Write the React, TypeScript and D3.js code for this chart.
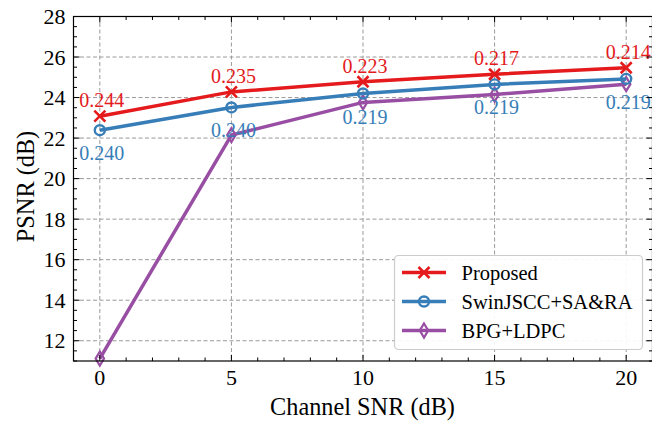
import React from "react";
import * as d3 from "d3";

const snr = [0, 5, 10, 15, 20];
const proposed = [23.08, 24.28, 24.78, 25.15, 25.47];
const swin = [22.39, 23.51, 24.2, 24.65, 24.92];
const bpg = [11.12, 22.15, 23.76, 24.15, 24.66];
const proposedLabels = ["0.244", "0.235", "0.223", "0.217", "0.214"];
const swinLabels = ["0.240", "0.240", "0.219", "0.219", "0.219"];
const xTicks = [0, 5, 10, 15, 20];
const yTicks = [12, 14, 16, 18, 20, 22, 24, 26, 28];
const seriesNames = ["Proposed", "SwinJSCC+SA&RA", "BPG+LDPC"];

const W = 652, H = 422;
const L = 73.5, T = 16.5, R = 652.5, B = 361;
const RED = "#e41a1c", BLUE = "#377eb8", PURPLE = "#984ea3";

function Marker({ kind, x, y, color }: { kind: string; x: number; y: number; color: string }) {
  if (kind === "x") {
    const s = 5.5;
    return (
      <path d={`M${x - s},${y - s}L${x + s},${y + s}M${x - s},${y + s}L${x + s},${y - s}`} stroke={color} strokeWidth={2.6} fill="none" />
    );
  }
  if (kind === "o") {
    return <circle cx={x} cy={y} r={5} stroke={color} strokeWidth={2.4} fill="none" />;
  }
  const w = 4.2, h = 7;
  return (
    <path d={`M${x},${y - h}L${x + w},${y}L${x},${y + h}L${x - w},${y}Z`} stroke={color} strokeWidth={2.2} fill="none" />
  );
}

export default function App() {
  const x = d3.scaleLinear().domain([-1, 21]).range([L, R]);
  const y = d3.scaleLinear().domain([11, 28]).range([B, T]);
  const line = d3.line<number>().x((_, i) => x(snr[i])).y((d) => y(d));

  const series = [
    { data: bpg, color: PURPLE, kind: "d" },
    { data: swin, color: BLUE, kind: "o" },
    { data: proposed, color: RED, kind: "x" },
  ];

  const xMinor = d3.range(-1, 21.001, 1).filter((v) => !xTicks.includes(v));
  const yMinor = d3.range(11, 28.001, 0.5).filter((v) => !yTicks.includes(v));

  const legendItems = [
    { name: seriesNames[0], color: RED, kind: "x" },
    { name: seriesNames[1], color: BLUE, kind: "o" },
    { name: seriesNames[2], color: PURPLE, kind: "d" },
  ];

  return (
    <svg width={W} height={H} style={{ position: "absolute", left: 0, top: 0, background: "#fff", fontFamily: "'Liberation Serif', 'Times New Roman', Times, serif" }}>
      <rect x={0} y={0} width={W} height={H} fill="#fff" />
      {/* grid */}
      <g stroke="#9a9a9a" strokeWidth={1} strokeDasharray="4,2.5">
        {xTicks.map((t) => (
          <line key={"gx" + t} x1={x(t)} x2={x(t)} y1={T} y2={B} />
        ))}
        {yTicks.map((t) => (
          <line key={"gy" + t} x1={L} x2={R} y1={y(t)} y2={y(t)} />
        ))}
      </g>
      {/* series */}
      {series.map((s, si) => (
        <g key={si}>
          <path d={line(s.data) || ""} stroke={s.color} strokeWidth={3.5} fill="none" strokeLinejoin="round" />
          {s.data.map((v, i) => (
            <Marker key={i} kind={s.kind} x={x(snr[i])} y={y(v)} color={s.color} />
          ))}
        </g>
      ))}
      {/* annotations */}
      <g fontSize={20} textAnchor="middle">
        {proposed.map((v, i) => (
          <text key={"pl" + i} x={x(snr[i]) + 2} y={y(v) - 9} fill={RED}>
            {proposedLabels[i]}
          </text>
        ))}
        {swin.map((v, i) => (
          <text key={"sl" + i} x={x(snr[i]) + 2} y={y(v) + 30} fill={BLUE}>
            {swinLabels[i]}
          </text>
        ))}
      </g>
      {/* ticks */}
      <g stroke="#000" strokeWidth={1}>
        {xTicks.map((t) => (
          <g key={"xt" + t}>
            <line x1={x(t)} x2={x(t)} y1={B} y2={B - 6} />
            <line x1={x(t)} x2={x(t)} y1={T} y2={T + 6} />
          </g>
        ))}
        {xMinor.map((t) => (
          <g key={"xm" + t}>
            <line x1={x(t)} x2={x(t)} y1={B} y2={B - 3.5} />
            <line x1={x(t)} x2={x(t)} y1={T} y2={T + 3.5} />
          </g>
        ))}
        {yTicks.map((t) => (
          <g key={"yt" + t}>
            <line x1={L} x2={L + 6} y1={y(t)} y2={y(t)} />
            <line x1={R} x2={R - 6} y1={y(t)} y2={y(t)} />
          </g>
        ))}
        {yMinor.map((t) => (
          <g key={"ym" + t}>
            <line x1={L} x2={L + 3.5} y1={y(t)} y2={y(t)} />
            <line x1={R} x2={R - 3.5} y1={y(t)} y2={y(t)} />
          </g>
        ))}
      </g>
      {/* legend */}
      <g>
        <rect x={394.5} y={255.5} width={248} height={94} rx={4} fill="#fff" fillOpacity={0.92} stroke="#cccccc" strokeWidth={1.2} />
        {legendItems.map((it, i) => {
          const ly = 272.5 + i * 29;
          return (
            <g key={it.name}>
              <line x1={402} x2={446} y1={ly} y2={ly} stroke={it.color} strokeWidth={3.5} />
              <Marker kind={it.kind} x={424} y={ly} color={it.color} />
              <text x={461.5} y={ly + 7} fontSize={20.5} fill="#000">
                {it.name}
              </text>
            </g>
          );
        })}
      </g>
      {/* spines */}
      <rect x={L} y={T} width={R - L} height={B - T} fill="none" stroke="#000" strokeWidth={1.2} />
      {/* tick labels */}
      <g fontSize={22} fill="#000">
        {xTicks.map((t) => (
          <text key={"xl" + t} x={x(t)} y={385} textAnchor="middle">
            {t}
          </text>
        ))}
        {yTicks.map((t) => (
          <text key={"yl" + t} x={65.5} y={y(t) + 7.5} textAnchor="end">
            {t}
          </text>
        ))}
      </g>
      <text x={(L + R) / 2 - 0.5} y={415} fontSize={24.3} textAnchor="middle">
        Channel SNR (dB)
      </text>
      <text transform={`translate(33.5,186.5) rotate(-90)`} fontSize={24.3} textAnchor="middle">
        PSNR (dB)
      </text>
    </svg>
  );
}
